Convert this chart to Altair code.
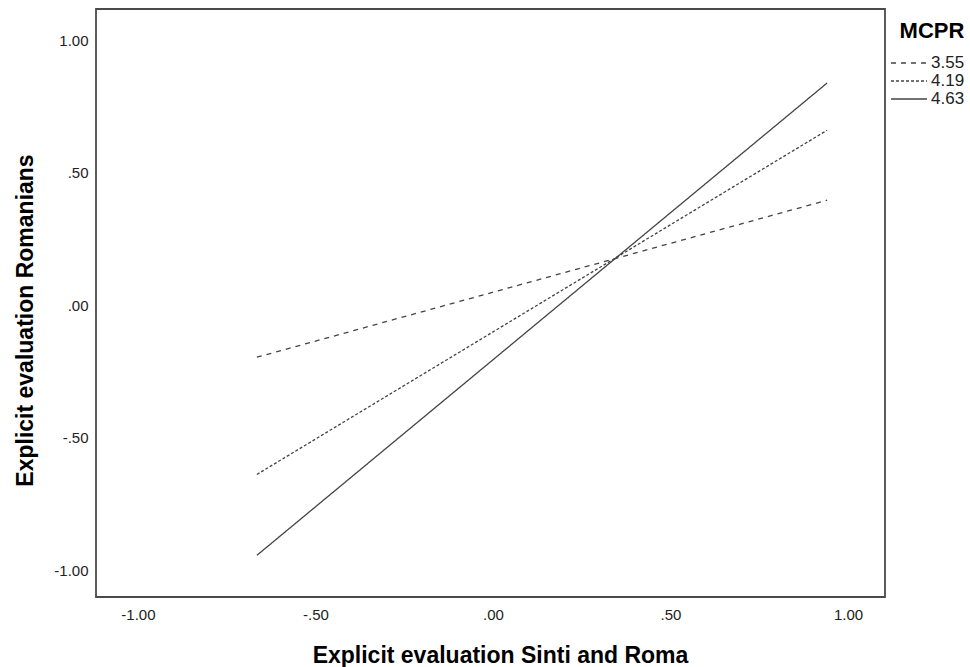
import altair as alt
import pandas as pd

groups = ["3.55", "4.19", "4.63"]
x_start = [-0.665, -0.665, -0.665]
x_end = [0.941, 0.941, 0.941]
y_start = [-0.196, -0.638, -0.943]
y_end = [0.396, 0.660, 0.838]
tick_values = [-1.0, -0.5, 0.0, 0.5, 1.0]

rows = []
for g, xs, xe, ys, ye in zip(groups, x_start, x_end, y_start, y_end):
    rows.append({"MCPR": g, "x": xs, "y": ys})
    rows.append({"MCPR": g, "x": xe, "y": ye})
df = pd.DataFrame(rows)

label_expr = "(datum.value < 0 ? '-' : '') + replace(format(abs(datum.value), '.2f'), '0.', '.')"

chart = alt.Chart(df).mark_line(color="#444444", strokeWidth=1.3).encode(
    x=alt.X("x:Q",
            scale=alt.Scale(domain=[-1.118, 1.104], nice=False, zero=False),
            axis=alt.Axis(title="Explicit evaluation Sinti and Roma", values=tick_values,
                          labelExpr=label_expr, grid=False, ticks=False, domain=False,
                          labelPadding=10, titlePadding=22, titleX=404)),
    y=alt.Y("y:Q",
            scale=alt.Scale(domain=[-1.10, 1.117], nice=False, zero=False),
            axis=alt.Axis(title="Explicit evaluation Romanians", values=tick_values,
                          labelExpr=label_expr, grid=False, ticks=False, domain=False,
                          labelPadding=8, titlePadding=16, titleY=311)),
    strokeDash=alt.StrokeDash("MCPR:N",
                              scale=alt.Scale(domain=groups, range=[[5, 5], [3, 2], [1, 0]]),
                              legend=alt.Legend(title="MCPR", orient="none", legendX=799, legendY=8,
                                                symbolType="M-2,0L2,0", symbolSize=324,
                                                symbolStrokeColor="#444444", symbolStrokeWidth=1.3,
                                                symbolFillColor="transparent",
                                                labelFontSize=17, titleFontSize=22, titleFontWeight="bold",
                                                titleColor="#000000", labelColor="#222222",
                                                titleAnchor="middle",
                                                rowPadding=0, titlePadding=10, labelOffset=12,
                                                padding=4)),
    detail="MCPR:N",
).properties(
    width=789, height=588,
    autosize=alt.AutoSizeParams(type="none"),
    padding={"left": 96, "top": 9, "right": 85, "bottom": 70},
).configure(
    background="white"
).configure_view(
    stroke="#4a4a4a", strokeWidth=1.8
).configure_axis(
    labelFont="Liberation Sans", titleFont="Liberation Sans",
    labelFontSize=15, labelColor="#222222",
    titleFontSize=23, titleFontWeight="bold", titleColor="#000000",
).configure_legend(
    labelFont="Liberation Sans", titleFont="Liberation Sans"
)

chart.save("out.html", embed_options={"renderer": "svg", "actions": False})
